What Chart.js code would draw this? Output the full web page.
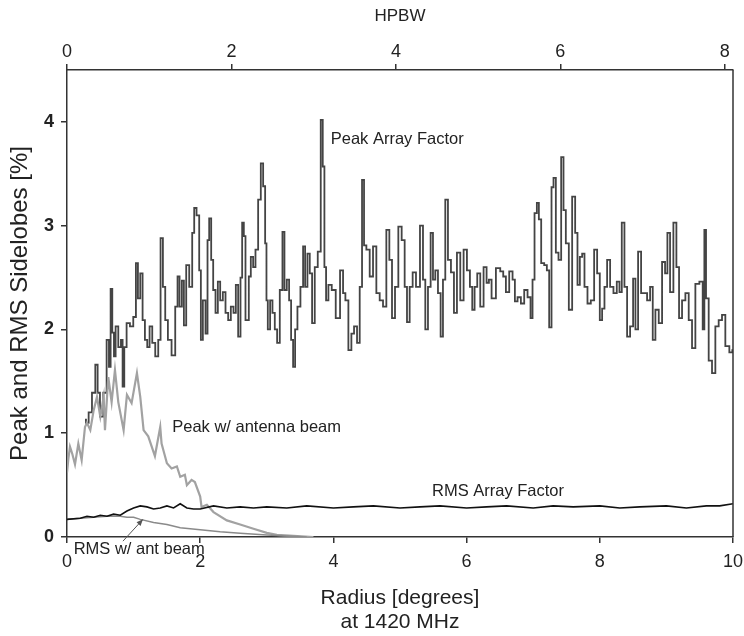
<!DOCTYPE html>
<html>
<head>
<meta charset="utf-8">
<script src="https://cdn.jsdelivr.net/npm/chart.js@4"></script>
<style>
html, body { margin: 0; padding: 0; background: #fff; }
</style>
</head>
<body>
<canvas id="chart" width="744" height="636"></canvas>
<script>
// Peak array factor (dark line), radius in degrees and sidelobe level in %
var peakAfRadius = [0.27, 0.3, 0.35, 0.4, 0.45, 0.47, 0.52, 0.57, 0.62, 0.64, 0.67, 0.69, 0.72, 0.74, 0.8, 0.82, 0.85, 0.87, 0.92, 0.97,
    1.02, 1.05, 1.08, 1.12, 1.15, 1.19, 1.22, 1.26, 1.3, 1.35, 1.39, 1.42, 1.46, 1.49, 1.54, 1.6, 1.65, 1.67, 1.71, 1.74, 1.77, 1.81, 1.86, 1.9, 1.92, 1.97,
    2.0, 2.02, 2.06, 2.1, 2.12, 2.15, 2.18, 2.21, 2.25, 2.28, 2.32, 2.36, 2.4, 2.44, 2.48, 2.52, 2.55, 2.59, 2.62, 2.64, 2.67, 2.69, 2.72, 2.74, 2.78, 2.81, 2.85, 2.89, 2.93, 2.96, 2.99,
    3.0, 3.03, 3.07, 3.1, 3.14, 3.17, 3.22, 3.25, 3.28, 3.32, 3.35, 3.38, 3.41, 3.44, 3.48, 3.53, 3.56, 3.59, 3.63, 3.66, 3.7, 3.74, 3.79, 3.83, 3.85, 3.88, 3.9, 3.95,
    4.0, 4.07, 4.13, 4.16, 4.2, 4.25, 4.29, 4.33, 4.38, 4.41, 4.45, 4.47, 4.52, 4.57, 4.62, 4.67, 4.72, 4.77, 4.82, 4.86, 4.9, 4.95,
    5.0, 5.05, 5.09, 5.12, 5.17, 5.21, 5.27, 5.33, 5.36, 5.4, 5.44, 5.48, 5.51, 5.55, 5.59, 5.63, 5.66, 5.7, 5.74, 5.79, 5.83, 5.88, 5.93, 5.98,
    6.03, 6.07, 6.1, 6.14, 6.18, 6.23, 6.28, 6.32, 6.35, 6.4, 6.48, 6.53, 6.57, 6.61, 6.67, 6.71, 6.74, 6.79, 6.84, 6.89, 6.94, 6.98,
    7.0, 7.04, 7.07, 7.1, 7.14, 7.19, 7.22, 7.26, 7.29, 7.32, 7.36, 7.4, 7.44, 7.47, 7.51, 7.56, 7.61, 7.65, 7.68, 7.72, 7.75, 7.79, 7.84, 7.89, 7.94, 7.98,
    8.02, 8.05, 8.09, 8.13, 8.18, 8.23, 8.28, 8.31, 8.35, 8.39, 8.43, 8.48, 8.52, 8.55, 8.6, 8.64, 8.69, 8.73, 8.78, 8.81, 8.86, 8.91, 8.96,
    9.0, 9.03, 9.08, 9.13, 9.17, 9.21, 9.26, 9.31, 9.36, 9.41, 9.46, 9.53, 9.56, 9.58, 9.61, 9.66, 9.71, 9.76, 9.81, 9.86, 9.91, 9.98, 10.0];
var peakAf = [1.13, 1.1, 1.2, 1.39, 1.66, 1.39, 1.16, 1.39, 1.9, 1.64, 2.39, 1.97, 1.74, 2.03, 1.83, 1.9, 1.45, 1.83, 2.06, 2.03,
    2.12, 2.64, 2.3, 2.54, 2.09, 1.9, 1.83, 2.03, 1.87, 1.74, 1.9, 2.88, 2.41, 2.09, 1.9, 1.75, 2.22, 2.51, 2.22, 2.47, 2.04, 2.62, 2.41, 2.93, 3.17, 3.1,
    2.57, 1.9, 2.28, 1.96, 2.86, 3.07, 2.67, 2.38, 2.16, 2.46, 2.28, 2.36, 2.16, 2.09, 2.22, 2.16, 2.43, 1.93, 2.5, 3.03, 2.9, 2.09, 2.09, 2.51, 2.7, 2.6, 2.77, 3.25, 3.6, 3.38, 2.83,
    2.28, 2.0, 2.28, 2.16, 2.0, 1.87, 2.38, 2.94, 2.38, 2.48, 2.28, 1.9, 1.64, 2.0, 2.22, 2.41, 2.8, 2.41, 2.73, 2.54, 2.06, 2.6, 2.75, 4.02, 3.57, 2.6, 2.28, 2.43,
    2.38, 2.11, 2.57, 2.35, 2.28, 1.8, 1.96, 2.03, 1.87, 2.41, 3.44, 2.81, 2.77, 2.51, 2.8, 2.35, 2.28, 2.22, 2.96, 2.67, 2.11, 2.41,
    2.99, 2.86, 2.41, 2.07, 2.41, 2.55, 2.41, 3.0, 2.48, 2.0, 2.41, 2.93, 2.48, 2.57, 2.35, 1.93, 2.48, 3.25, 2.67, 2.55, 2.16, 2.74, 2.28, 2.77,
    2.57, 2.41, 2.19, 2.41, 2.54, 2.22, 2.6, 2.45, 2.48, 2.3, 2.59, 2.56, 2.51, 2.36, 2.56, 2.48, 2.27, 2.31, 2.25, 2.38, 2.31, 2.11,
    2.48, 3.12, 3.22, 3.06, 2.64, 2.62, 2.57, 2.02, 3.37, 3.46, 2.74, 2.67, 3.66, 3.15, 2.83, 2.19, 3.28, 2.93, 2.43, 2.7, 2.73, 2.41, 2.25, 2.28, 2.77, 2.54,
    2.09, 2.2, 2.41, 2.67, 2.41, 2.35, 2.46, 2.36, 3.03, 2.41, 1.93, 2.03, 2.49, 2.0, 2.75, 2.35, 2.35, 2.28, 2.41, 1.9, 2.19, 2.06, 2.65,
    2.54, 2.93, 2.36, 3.03, 2.6, 2.11, 2.28, 2.35, 2.09, 1.82, 2.44, 2.46, 2.0, 2.96, 2.3, 1.7, 1.58, 2.03, 2.09, 2.14, 1.84, 1.78, 1.8];

// Peak with antenna beam (light grey)
var beamPeakRadius = [0, 0.02, 0.045, 0.08, 0.12, 0.17, 0.22, 0.27, 0.3, 0.35, 0.4, 0.45, 0.5, 0.55, 0.57, 0.62, 0.67, 0.72, 0.77, 0.85, 0.9, 0.97,
    1.05, 1.1, 1.15, 1.22, 1.32, 1.4, 1.42, 1.5, 1.57, 1.65, 1.7, 1.77, 1.8, 1.87, 1.92, 2.0, 2.02, 2.1, 2.2, 2.4, 2.6, 2.8, 3.0, 3.15, 3.4, 3.7];
var beamPeak = [0.62, 0.75, 0.87, 0.8, 0.7, 0.9, 0.74, 1.06, 1.1, 1.03, 1.22, 1.35, 1.16, 1.35, 1.03, 1.54, 1.3, 1.61, 1.3, 1.03, 1.37, 1.29,
    1.58, 1.35, 1.03, 0.97, 0.78, 1.06, 0.9, 0.71, 0.66, 0.68, 0.58, 0.6, 0.5, 0.55, 0.53, 0.39, 0.29, 0.31, 0.24, 0.16, 0.12, 0.08, 0.04, 0.02, 0.01, 0];

// RMS array factor (black)
var rmsAfRadius = [0, 0.2, 0.3, 0.4, 0.5, 0.6, 0.7, 0.8, 0.9, 1.0, 1.1, 1.2, 1.3, 1.4, 1.5, 1.6, 1.7, 1.8, 1.9, 2.0, 2.2, 2.4, 2.6, 2.8, 3.0,
    3.3, 3.6, 4.0, 4.3, 4.6, 5.0, 5.3, 5.6, 6.0, 6.3, 6.6, 7.0, 7.3, 7.6, 8.0, 8.3, 8.6, 9.0, 9.3, 9.6, 9.8, 10.0];
var rmsAf = [0.17, 0.18, 0.2, 0.19, 0.21, 0.2, 0.22, 0.21, 0.25, 0.28, 0.3, 0.29, 0.27, 0.28, 0.3, 0.28, 0.32, 0.28, 0.27, 0.27, 0.3, 0.28, 0.29, 0.28, 0.29,
    0.28, 0.3, 0.28, 0.29, 0.3, 0.28, 0.29, 0.3, 0.28, 0.29, 0.3, 0.28, 0.3, 0.29, 0.3, 0.28, 0.29, 0.3, 0.28, 0.3, 0.3, 0.32];

// RMS with antenna beam (grey)
var beamRmsRadius = [0, 0.2, 0.4, 0.6, 0.8, 0.9, 1.0, 1.1, 1.3, 1.5, 1.7, 2.0, 2.3, 2.6, 3.0, 3.3, 3.6];
var beamRms = [0.17, 0.18, 0.19, 0.2, 0.2, 0.19, 0.19, 0.17, 0.14, 0.12, 0.09, 0.07, 0.05, 0.035, 0.02, 0.01, 0];

var radiusTicks = [0, 2, 4, 6, 8, 10];
var hpbwTicks = [0, 2, 4, 6, 8];
var sidelobeTicks = [0, 1, 2, 3, 4];

var notes = [
    { text: 'Peak Array Factor', x: 3.96, y: 3.83 },
    { text: 'Peak w/ antenna beam', x: 1.58, y: 1.06 },
    { text: 'RMS Array Factor', x: 5.48, y: 0.44 },
    { text: 'RMS w/ ant beam', x: 0.1, y: -0.12 }
];

function pairs(xs, ys) {
    return xs.map(function(x, i) { return { x: x, y: ys[i] }; });
}

var fontFamily = '"Liberation Sans", Arial, sans-serif';
var axisColor = '#333';

var framePlugin = {
    id: 'frameAndNotes',
    afterDatasetsDraw: function(chart) {
        var ctx = chart.ctx;
        var area = chart.chartArea;
        var xs = chart.scales.x, ys = chart.scales.y;
        ctx.save();
        ctx.strokeStyle = axisColor;
        ctx.lineWidth = 1.5;
        ctx.beginPath();
        ctx.moveTo(area.right, area.top);
        ctx.lineTo(area.right, area.bottom);
        ctx.stroke();

        ctx.fillStyle = '#222';
        ctx.font = '16.5px ' + fontFamily;
        ctx.textBaseline = 'middle';
        notes.forEach(function(n) {
            ctx.fillText(n.text, xs.getPixelForValue(n.x), ys.getPixelForValue(n.y));
        });

        // arrow to the RMS w/ ant beam curve
        var x0 = xs.getPixelForValue(0.84), y0 = ys.getPixelForValue(-0.04);
        var x1 = xs.getPixelForValue(1.14), y1 = ys.getPixelForValue(0.17);
        ctx.strokeStyle = '#555';
        ctx.lineWidth = 1;
        ctx.beginPath();
        ctx.moveTo(x0, y0);
        ctx.lineTo(x1, y1);
        ctx.stroke();
        var a = Math.atan2(y1 - y0, x1 - x0);
        ctx.beginPath();
        ctx.moveTo(x1, y1);
        ctx.lineTo(x1 - 7 * Math.cos(a - 0.4), y1 - 7 * Math.sin(a - 0.4));
        ctx.lineTo(x1 - 7 * Math.cos(a + 0.4), y1 - 7 * Math.sin(a + 0.4));
        ctx.closePath();
        ctx.fillStyle = '#555';
        ctx.fill();
        ctx.restore();
    }
};

function axisGrid() {
    return { display: true, drawOnChartArea: false, drawTicks: true, tickLength: 6, color: axisColor, lineWidth: 1.5 };
}

function tickList(values) {
    return function(scale) {
        scale.ticks = values.map(function(v) { return { value: v }; });
    };
}

function fixHeight(h) {
    return function(s) {
        s.height = h;
        s.paddingLeft = 0;
        s.paddingRight = 0;
    };
}

var ctx = document.getElementById('chart').getContext('2d');
var chart = new Chart(ctx, {
    type: 'line',
    data: {
        datasets: [{
            label: 'RMS Array Factor',
            data: pairs(rmsAfRadius, rmsAf),
            borderColor: '#111',
            borderWidth: 1.6,
            order: 1
        }, {
            label: 'RMS w/ ant beam',
            data: pairs(beamRmsRadius, beamRms),
            borderColor: '#8a8a8a',
            borderWidth: 1.5,
            order: 2
        }, {
            label: 'Peak w/ antenna beam',
            data: pairs(beamPeakRadius, beamPeak),
            borderColor: '#a2a2a2',
            borderWidth: 2.2,
            order: 3
        }, {
            label: 'Peak Array Factor',
            data: pairs(peakAfRadius, peakAf),
            borderColor: '#444',
            borderWidth: 1.8,
            stepped: 'middle',
            order: 4
        }]
    },
    options: {
        responsive: false,
        animation: false,
        layout: { padding: { top: 0, right: 11, bottom: 0, left: 0 } },
        elements: { point: { radius: 0 }, line: { tension: 0 } },
        plugins: { legend: { display: false }, tooltip: { enabled: false } },
        scales: {
            x: {
                type: 'linear',
                position: 'bottom',
                min: 0,
                max: 10,
                afterBuildTicks: tickList(radiusTicks),
                ticks: { color: '#222', font: { family: fontFamily, size: 18 }, padding: 8, maxRotation: 0 },
                grid: axisGrid(),
                border: { display: true, color: axisColor, width: 1.5 },
                title: {
                    display: true,
                    text: ['Radius [degrees]', 'at 1420 MHz'],
                    color: '#222',
                    font: { family: fontFamily, size: 21, lineHeight: 1.15 },
                    padding: { top: 4, bottom: 2 }
                },
                afterFit: fixHeight(99)
            },
            x2: {
                type: 'linear',
                position: 'top',
                min: 0,
                max: 8.1,
                afterBuildTicks: tickList(hpbwTicks),
                ticks: { color: '#222', font: { family: fontFamily, size: 18 }, padding: 1, maxRotation: 0 },
                grid: axisGrid(),
                border: { display: true, color: axisColor, width: 1.5 },
                title: {
                    display: true,
                    text: 'HPBW',
                    color: '#222',
                    font: { family: fontFamily, size: 17 },
                    padding: { top: 6, bottom: 0 }
                },
                afterFit: fixHeight(70)
            },
            y: {
                type: 'linear',
                min: 0,
                max: 4.5,
                afterBuildTicks: tickList(sidelobeTicks),
                ticks: { color: '#222', font: { family: fontFamily, size: 18, weight: 'bold' }, padding: 7 },
                grid: axisGrid(),
                border: { display: true, color: axisColor, width: 1.5 },
                title: {
                    display: true,
                    text: 'Peak and RMS Sidelobes [%]',
                    color: '#222',
                    font: { family: fontFamily, size: 24 },
                    padding: { top: 6, bottom: 4 }
                },
                afterFit: function(s) { s.width = 67; }
            }
        }
    },
    plugins: [framePlugin]
});
</script>
</body>
</html>
